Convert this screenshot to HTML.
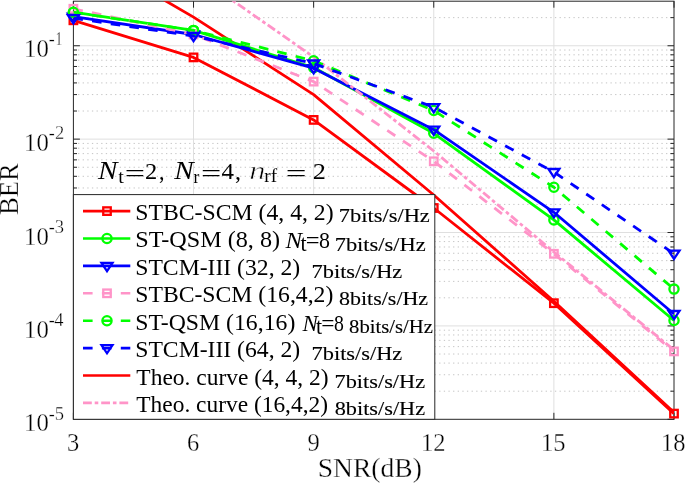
<!DOCTYPE html><html><head><meta charset="utf-8"><style>html,body{margin:0;padding:0;background:#fff;}svg{display:block;will-change:transform;} .lt text{stroke:#fff;stroke-width:0.3px;} .bt text{stroke:#000;stroke-width:0.12px;}</style></head><body><svg width="685" height="483" viewBox="0 0 685 483">
<rect width="685" height="483" fill="#fff"/>
<defs><clipPath id="ax"><rect x="73.40" y="1.20" width="600.60" height="418.10"/></clipPath></defs>
<path d="M73.40 391.19H674.00M73.40 374.74H674.00M73.40 363.08H674.00M73.40 354.03H674.00M73.40 346.63H674.00M73.40 340.38H674.00M73.40 334.96H674.00M73.40 330.19H674.00M73.40 297.80H674.00M73.40 281.36H674.00M73.40 269.69H674.00M73.40 260.64H674.00M73.40 253.25H674.00M73.40 246.99H674.00M73.40 241.58H674.00M73.40 236.80H674.00M73.40 204.42H674.00M73.40 187.97H674.00M73.40 176.30H674.00M73.40 167.25H674.00M73.40 159.86H674.00M73.40 153.61H674.00M73.40 148.19H674.00M73.40 143.42H674.00M73.40 111.03H674.00M73.40 94.59H674.00M73.40 82.92H674.00M73.40 73.87H674.00M73.40 66.47H674.00M73.40 60.22H674.00M73.40 54.81H674.00M73.40 50.03H674.00M73.40 17.64H674.00" stroke="#c4c4c4" stroke-width="1" stroke-dasharray="1.3 3.33" fill="none"/>
<path d="M73.40 325.91H674.00M73.40 232.53H674.00M73.40 139.14H674.00M73.40 45.76H674.00M193.52 1.20V419.30M313.64 1.20V419.30M433.76 1.20V419.30M553.88 1.20V419.30" stroke="#dfdfdf" stroke-width="1" fill="none"/>
<path d="M73.40 419.30h6.5M674.00 419.30h-6.5M73.40 391.19h3.6M674.00 391.19h-3.6M73.40 374.74h3.6M674.00 374.74h-3.6M73.40 363.08h3.6M674.00 363.08h-3.6M73.40 354.03h3.6M674.00 354.03h-3.6M73.40 346.63h3.6M674.00 346.63h-3.6M73.40 340.38h3.6M674.00 340.38h-3.6M73.40 334.96h3.6M674.00 334.96h-3.6M73.40 330.19h3.6M674.00 330.19h-3.6M73.40 325.91h6.5M674.00 325.91h-6.5M73.40 297.80h3.6M674.00 297.80h-3.6M73.40 281.36h3.6M674.00 281.36h-3.6M73.40 269.69h3.6M674.00 269.69h-3.6M73.40 260.64h3.6M674.00 260.64h-3.6M73.40 253.25h3.6M674.00 253.25h-3.6M73.40 246.99h3.6M674.00 246.99h-3.6M73.40 241.58h3.6M674.00 241.58h-3.6M73.40 236.80h3.6M674.00 236.80h-3.6M73.40 232.53h6.5M674.00 232.53h-6.5M73.40 204.42h3.6M674.00 204.42h-3.6M73.40 187.97h3.6M674.00 187.97h-3.6M73.40 176.30h3.6M674.00 176.30h-3.6M73.40 167.25h3.6M674.00 167.25h-3.6M73.40 159.86h3.6M674.00 159.86h-3.6M73.40 153.61h3.6M674.00 153.61h-3.6M73.40 148.19h3.6M674.00 148.19h-3.6M73.40 143.42h3.6M674.00 143.42h-3.6M73.40 139.14h6.5M674.00 139.14h-6.5M73.40 111.03h3.6M674.00 111.03h-3.6M73.40 94.59h3.6M674.00 94.59h-3.6M73.40 82.92h3.6M674.00 82.92h-3.6M73.40 73.87h3.6M674.00 73.87h-3.6M73.40 66.47h3.6M674.00 66.47h-3.6M73.40 60.22h3.6M674.00 60.22h-3.6M73.40 54.81h3.6M674.00 54.81h-3.6M73.40 50.03h3.6M674.00 50.03h-3.6M73.40 45.76h6.5M674.00 45.76h-6.5M73.40 17.64h3.6M674.00 17.64h-3.6M73.40 419.30v-6.5M73.40 1.20v6.5M193.52 419.30v-6.5M193.52 1.20v6.5M313.64 419.30v-6.5M313.64 1.20v6.5M433.76 419.30v-6.5M433.76 1.20v6.5M553.88 419.30v-6.5M553.88 1.20v6.5M674.00 419.30v-6.5M674.00 1.20v6.5" stroke="#262626" stroke-width="1" fill="none"/>
<rect x="73.40" y="1.20" width="600.60" height="418.10" fill="none" stroke="#262626" stroke-width="1"/>
<polyline clip-path="url(#ax)" points="73.40,-52.70 193.52,17.10 313.64,94.60 433.76,195.00 553.88,301.20 674.00,412.50" fill="none" stroke="#ff0000" stroke-width="2.8" stroke-linejoin="round"/>
<polyline clip-path="url(#ax)" points="73.40,20.30 193.52,57.40 313.64,119.90 433.76,208.00 553.88,303.20 674.00,413.60" fill="none" stroke="#ff0000" stroke-width="2.8" stroke-linejoin="round"/>
<rect x="69.65" y="16.55" width="7.50" height="7.50" fill="none" stroke="#ff0000" stroke-width="2.3"/>
<rect x="189.77" y="53.65" width="7.50" height="7.50" fill="none" stroke="#ff0000" stroke-width="2.3"/>
<rect x="309.89" y="116.15" width="7.50" height="7.50" fill="none" stroke="#ff0000" stroke-width="2.3"/>
<rect x="430.01" y="204.25" width="7.50" height="7.50" fill="none" stroke="#ff0000" stroke-width="2.3"/>
<rect x="550.13" y="299.45" width="7.50" height="7.50" fill="none" stroke="#ff0000" stroke-width="2.3"/>
<rect x="670.25" y="409.85" width="7.50" height="7.50" fill="none" stroke="#ff0000" stroke-width="2.3"/>
<polyline clip-path="url(#ax)" points="73.40,12.20 193.52,30.40 313.64,67.60 433.76,133.30 553.88,219.90 674.00,320.50" fill="none" stroke="#00ff00" stroke-width="2.8" stroke-linejoin="round"/>
<circle cx="73.40" cy="12.20" r="4.6" fill="none" stroke="#00ff00" stroke-width="2.3"/>
<circle cx="193.52" cy="30.40" r="4.6" fill="none" stroke="#00ff00" stroke-width="2.3"/>
<circle cx="313.64" cy="67.60" r="4.6" fill="none" stroke="#00ff00" stroke-width="2.3"/>
<circle cx="433.76" cy="133.30" r="4.6" fill="none" stroke="#00ff00" stroke-width="2.3"/>
<circle cx="553.88" cy="219.90" r="4.6" fill="none" stroke="#00ff00" stroke-width="2.3"/>
<circle cx="674.00" cy="320.50" r="4.6" fill="none" stroke="#00ff00" stroke-width="2.3"/>
<polyline clip-path="url(#ax)" points="73.40,16.60 193.52,34.50 313.64,68.20 433.76,129.70 553.88,212.30 674.00,314.00" fill="none" stroke="#0000ff" stroke-width="2.8" stroke-linejoin="round"/>
<path d="M67.90 13.60H78.90L73.40 21.80Z" fill="none" stroke="#0000ff" stroke-width="2.3" stroke-linejoin="miter"/>
<path d="M188.02 31.50H199.02L193.52 39.70Z" fill="none" stroke="#0000ff" stroke-width="2.3" stroke-linejoin="miter"/>
<path d="M308.14 65.20H319.14L313.64 73.40Z" fill="none" stroke="#0000ff" stroke-width="2.3" stroke-linejoin="miter"/>
<path d="M428.26 126.70H439.26L433.76 134.90Z" fill="none" stroke="#0000ff" stroke-width="2.3" stroke-linejoin="miter"/>
<path d="M548.38 209.30H559.38L553.88 217.50Z" fill="none" stroke="#0000ff" stroke-width="2.3" stroke-linejoin="miter"/>
<path d="M668.50 311.00H679.50L674.00 319.20Z" fill="none" stroke="#0000ff" stroke-width="2.3" stroke-linejoin="miter"/>
<polyline clip-path="url(#ax)" points="73.40,-110.00 193.52,-26.80 313.64,57.00 433.76,151.00 553.88,252.00 674.00,350.00" fill="none" stroke="#ff94c8" stroke-width="2.8" stroke-linejoin="round" stroke-dasharray="8.8 2.9 3.6 2.9"/>
<polyline clip-path="url(#ax)" points="73.40,8.75 193.52,34.50 313.64,81.60 433.76,161.30 553.88,253.80 674.00,351.40" fill="none" stroke="#ff94c8" stroke-width="2.8" stroke-linejoin="round" stroke-dasharray="9.6 9.3"/>
<rect x="69.65" y="5.00" width="7.50" height="7.50" fill="none" stroke="#ff94c8" stroke-width="2.3"/>
<rect x="189.77" y="30.75" width="7.50" height="7.50" fill="none" stroke="#ff94c8" stroke-width="2.3"/>
<rect x="309.89" y="77.85" width="7.50" height="7.50" fill="none" stroke="#ff94c8" stroke-width="2.3"/>
<rect x="430.01" y="157.55" width="7.50" height="7.50" fill="none" stroke="#ff94c8" stroke-width="2.3"/>
<rect x="550.13" y="250.05" width="7.50" height="7.50" fill="none" stroke="#ff94c8" stroke-width="2.3"/>
<rect x="670.25" y="347.65" width="7.50" height="7.50" fill="none" stroke="#ff94c8" stroke-width="2.3"/>
<polyline clip-path="url(#ax)" points="73.40,12.20 193.52,30.40 313.64,60.80 433.76,110.50 553.88,187.30 674.00,289.10" fill="none" stroke="#00ff00" stroke-width="2.8" stroke-linejoin="round" stroke-dasharray="9.6 9.3"/>
<circle cx="73.40" cy="12.20" r="4.6" fill="none" stroke="#00ff00" stroke-width="2.3"/>
<circle cx="193.52" cy="30.40" r="4.6" fill="none" stroke="#00ff00" stroke-width="2.3"/>
<circle cx="313.64" cy="60.80" r="4.6" fill="none" stroke="#00ff00" stroke-width="2.3"/>
<circle cx="433.76" cy="110.50" r="4.6" fill="none" stroke="#00ff00" stroke-width="2.3"/>
<circle cx="553.88" cy="187.30" r="4.6" fill="none" stroke="#00ff00" stroke-width="2.3"/>
<circle cx="674.00" cy="289.10" r="4.6" fill="none" stroke="#00ff00" stroke-width="2.3"/>
<polyline clip-path="url(#ax)" points="73.40,18.20 193.52,36.00 313.64,63.50 433.76,107.20 553.88,172.00 674.00,253.70" fill="none" stroke="#0000ff" stroke-width="2.8" stroke-linejoin="round" stroke-dasharray="9.6 9.3"/>
<path d="M67.90 15.20H78.90L73.40 23.40Z" fill="none" stroke="#0000ff" stroke-width="2.3" stroke-linejoin="miter"/>
<path d="M188.02 33.00H199.02L193.52 41.20Z" fill="none" stroke="#0000ff" stroke-width="2.3" stroke-linejoin="miter"/>
<path d="M308.14 60.50H319.14L313.64 68.70Z" fill="none" stroke="#0000ff" stroke-width="2.3" stroke-linejoin="miter"/>
<path d="M428.26 104.20H439.26L433.76 112.40Z" fill="none" stroke="#0000ff" stroke-width="2.3" stroke-linejoin="miter"/>
<path d="M548.38 169.00H559.38L553.88 177.20Z" fill="none" stroke="#0000ff" stroke-width="2.3" stroke-linejoin="miter"/>
<path d="M668.50 250.70H679.50L674.00 258.90Z" fill="none" stroke="#0000ff" stroke-width="2.3" stroke-linejoin="miter"/>
<g class="lt">
<text transform="matrix(1.0000 0 0 1 67.01 451.00)" font-family="Liberation Serif, serif" font-size="24.5" fill="#000">3</text>
<text transform="matrix(1.0000 0 0 1 187.07 451.00)" font-family="Liberation Serif, serif" font-size="24.5" fill="#000">6</text>
<text transform="matrix(1.0000 0 0 1 307.44 451.00)" font-family="Liberation Serif, serif" font-size="24.5" fill="#000">9</text>
<text transform="matrix(1.0000 0 0 1 420.94 451.00)" font-family="Liberation Serif, serif" font-size="24.5" fill="#000">12</text>
<text transform="matrix(1.0000 0 0 1 540.88 451.00)" font-family="Liberation Serif, serif" font-size="24.5" fill="#000">15</text>
<text transform="matrix(1.0000 0 0 1 661.00 451.00)" font-family="Liberation Serif, serif" font-size="24.5" fill="#000">18</text>
<text transform="matrix(1.0122 0 0 1 24.09 57.00)" font-family="Liberation Serif, serif" font-size="24.5" fill="#000">10</text>
<text transform="matrix(0.9771 0 0 1 48.67 45.00)" font-family="Liberation Serif, serif" font-size="18.5" fill="#000">-</text>
<text transform="matrix(0.6852 0 0 1 55.82 45.00)" font-family="Liberation Serif, serif" font-size="18.5" fill="#000">1</text>
<text transform="matrix(1.0122 0 0 1 24.09 151.00)" font-family="Liberation Serif, serif" font-size="24.5" fill="#000">10</text>
<text transform="matrix(0.9771 0 0 1 48.67 139.00)" font-family="Liberation Serif, serif" font-size="18.5" fill="#000">-</text>
<text transform="matrix(1.0000 0 0 1 54.97 139.00)" font-family="Liberation Serif, serif" font-size="18.5" fill="#000">2</text>
<text transform="matrix(1.0122 0 0 1 24.09 245.00)" font-family="Liberation Serif, serif" font-size="24.5" fill="#000">10</text>
<text transform="matrix(0.9771 0 0 1 48.67 233.00)" font-family="Liberation Serif, serif" font-size="18.5" fill="#000">-</text>
<text transform="matrix(1.0000 0 0 1 54.69 233.00)" font-family="Liberation Serif, serif" font-size="18.5" fill="#000">3</text>
<text transform="matrix(1.0122 0 0 1 24.09 338.00)" font-family="Liberation Serif, serif" font-size="24.5" fill="#000">10</text>
<text transform="matrix(0.9771 0 0 1 48.67 326.00)" font-family="Liberation Serif, serif" font-size="18.5" fill="#000">-</text>
<text transform="matrix(1.0000 0 0 1 54.23 326.00)" font-family="Liberation Serif, serif" font-size="18.5" fill="#000">4</text>
<text transform="matrix(1.0122 0 0 1 24.09 431.00)" font-family="Liberation Serif, serif" font-size="24.5" fill="#000">10</text>
<text transform="matrix(0.9771 0 0 1 48.67 420.00)" font-family="Liberation Serif, serif" font-size="18.5" fill="#000">-</text>
<text transform="matrix(1.0000 0 0 1 54.69 420.00)" font-family="Liberation Serif, serif" font-size="18.5" fill="#000">5</text>
<text transform="matrix(1.0395 0 0 1 317.81 477.00)" font-family="Liberation Serif, serif" font-size="26.5" fill="#000">SNR(dB)</text>
<g transform="translate(18.2 214.3) rotate(-90)"><text transform="matrix(0.9902 0 0 1 -0.80 0.00)" font-family="Liberation Serif, serif" font-size="27" fill="#000">BER</text></g>
</g>
<text transform="matrix(1.1667 0 0 1 98.05 179.00)" font-family="Liberation Serif, serif" font-size="25.0" font-style="italic" fill="#000">N</text>
<text transform="matrix(1.0526 0 0 1 118.20 183.00)" font-family="Liberation Serif, serif" font-size="19.0" fill="#000">t</text>
<text transform="matrix(1.5615 0 0 1 124.70 180.50)" font-family="Liberation Serif, serif" font-size="23.0" fill="#000">=</text>
<text transform="matrix(1.0652 0 0 1 145.10 179.00)" font-family="Liberation Serif, serif" font-size="23.0" fill="#000">2</text>
<text transform="matrix(0.9595 0 0 1 158.92 179.00)" font-family="Liberation Serif, serif" font-size="23.0" fill="#000">,</text>
<text transform="matrix(1.1667 0 0 1 174.25 179.00)" font-family="Liberation Serif, serif" font-size="25.0" font-style="italic" fill="#000">N</text>
<text transform="matrix(0.9146 0 0 1 193.55 183.00)" font-family="Liberation Serif, serif" font-size="19.0" fill="#000">r</text>
<text transform="matrix(1.5615 0 0 1 200.90 180.50)" font-family="Liberation Serif, serif" font-size="23.0" fill="#000">=</text>
<text transform="matrix(1.0846 0 0 1 221.50 179.00)" font-family="Liberation Serif, serif" font-size="23.0" fill="#000">4</text>
<text transform="matrix(1.0495 0 0 1 235.03 179.00)" font-family="Liberation Serif, serif" font-size="23.0" fill="#000">,</text>
<text transform="matrix(1.2988 0 0 1 249.16 179.00)" font-family="Liberation Serif, serif" font-size="25.0" font-style="italic" fill="#000" stroke="#fff" stroke-width="0.55">n</text>
<text transform="matrix(1.0684 0 0 1 264.32 182.00)" font-family="Liberation Serif, serif" font-size="18.0" fill="#000">rf</text>
<text transform="matrix(1.5989 0 0 1 285.86 180.50)" font-family="Liberation Serif, serif" font-size="23.0" fill="#000">=</text>
<text transform="matrix(1.1413 0 0 1 312.82 179.00)" font-family="Liberation Serif, serif" font-size="23.0" fill="#000">2</text>
<rect x="73.40" y="194.60" width="361.40" height="224.70" fill="#fff" stroke="#262626" stroke-width="1"/>
<line x1="83" y1="211.10" x2="130.3" y2="211.10" stroke="#ff0000" stroke-width="2.6"/>
<rect x="103.25" y="207.35" width="7.50" height="7.50" fill="none" stroke="#ff0000" stroke-width="2.3"/>
<text transform="matrix(1.0506 0 0 1 135.26 220.00)" font-family="Liberation Serif, serif" font-size="22.6" fill="#000">STBC-SCM (4, 4, 2)</text>
<g class="bt"><text transform="matrix(1.1955 0 0 1 338.74 222.00)" font-family="Liberation Serif, serif" font-size="18.8" fill="#000">7bits/s/Hz</text></g>
<line x1="83" y1="238.50" x2="130.3" y2="238.50" stroke="#00ff00" stroke-width="2.6"/>
<circle cx="107.00" cy="238.50" r="4.6" fill="none" stroke="#00ff00" stroke-width="2.3"/>
<text transform="matrix(1.0699 0 0 1 135.23 247.00)" font-family="Liberation Serif, serif" font-size="22.6" fill="#000">ST-QSM (8, 8)</text>
<text transform="matrix(1.1000 0 0 1 285.42 248.00)" font-family="Liberation Serif, serif" font-size="22.6" font-style="italic" fill="#000">N</text>
<text transform="matrix(0.9700 0 0 1 300.38 250.50)" font-family="Liberation Serif, serif" font-size="22.6" fill="#000">t</text>
<text transform="matrix(1.0848 0 0 1 305.87 248.00)" font-family="Liberation Serif, serif" font-size="22.6" fill="#000">=</text>
<text transform="matrix(0.9692 0 0 1 318.92 248.00)" font-family="Liberation Serif, serif" font-size="22.6" fill="#000">8</text>
<g class="bt"><text transform="matrix(1.1968 0 0 1 334.64 251.00)" font-family="Liberation Serif, serif" font-size="18.8" fill="#000">7bits/s/Hz</text></g>
<line x1="83" y1="265.90" x2="130.3" y2="265.90" stroke="#0000ff" stroke-width="2.6"/>
<path d="M101.50 262.90H112.50L107.00 271.10Z" fill="none" stroke="#0000ff" stroke-width="2.3" stroke-linejoin="miter"/>
<text transform="matrix(1.0480 0 0 1 135.26 275.00)" font-family="Liberation Serif, serif" font-size="22.6" fill="#000">STCM-III (32, 2)</text>
<g class="bt"><text transform="matrix(1.1901 0 0 1 311.55 278.00)" font-family="Liberation Serif, serif" font-size="18.8" fill="#000">7bits/s/Hz</text></g>
<line x1="83" y1="293.30" x2="130.3" y2="293.30" stroke="#ff94c8" stroke-width="2.6" stroke-dasharray="9.6 9.3"/>
<rect x="103.25" y="289.55" width="7.50" height="7.50" fill="none" stroke="#ff94c8" stroke-width="2.3"/>
<text transform="matrix(1.0484 0 0 1 135.26 302.00)" font-family="Liberation Serif, serif" font-size="22.6" fill="#000">STBC-SCM (16,4,2)</text>
<g class="bt"><text transform="matrix(1.1693 0 0 1 339.02 305.00)" font-family="Liberation Serif, serif" font-size="18.8" fill="#000">8bits/s/Hz</text></g>
<line x1="83" y1="320.70" x2="130.3" y2="320.70" stroke="#00ff00" stroke-width="2.6" stroke-dasharray="9.6 9.3"/>
<circle cx="107.00" cy="320.70" r="4.6" fill="none" stroke="#00ff00" stroke-width="2.3"/>
<text transform="matrix(1.0510 0 0 1 135.26 330.00)" font-family="Liberation Serif, serif" font-size="22.6" fill="#000">ST-QSM (16,16)</text>
<text transform="matrix(1.0202 0 0 1 302.42 331.00)" font-family="Liberation Serif, serif" font-size="22.6" font-style="italic" fill="#000">N</text>
<text transform="matrix(0.9700 0 0 1 316.08 333.50)" font-family="Liberation Serif, serif" font-size="22.6" fill="#000">t</text>
<text transform="matrix(1.0372 0 0 1 321.23 331.00)" font-family="Liberation Serif, serif" font-size="22.6" fill="#000">=</text>
<text transform="matrix(0.8744 0 0 1 333.91 331.00)" font-family="Liberation Serif, serif" font-size="22.6" fill="#000">8</text>
<g class="bt"><text transform="matrix(1.0999 0 0 1 349.07 333.00)" font-family="Liberation Serif, serif" font-size="18.8" fill="#000">8bits/s/Hz</text></g>
<line x1="83" y1="348.10" x2="130.3" y2="348.10" stroke="#0000ff" stroke-width="2.6" stroke-dasharray="9.6 9.3"/>
<path d="M101.50 345.10H112.50L107.00 353.30Z" fill="none" stroke="#0000ff" stroke-width="2.3" stroke-linejoin="miter"/>
<text transform="matrix(1.0480 0 0 1 135.26 357.00)" font-family="Liberation Serif, serif" font-size="22.6" fill="#000">STCM-III (64, 2)</text>
<g class="bt"><text transform="matrix(1.1901 0 0 1 311.55 360.00)" font-family="Liberation Serif, serif" font-size="18.8" fill="#000">7bits/s/Hz</text></g>
<line x1="83" y1="375.50" x2="130.3" y2="375.50" stroke="#ff0000" stroke-width="2.6"/>
<text transform="matrix(1.0390 0 0 1 136.33 385.00)" font-family="Liberation Serif, serif" font-size="22.6" fill="#000">Theo. curve (4, 4, 2)</text>
<g class="bt"><text transform="matrix(1.1874 0 0 1 334.55 388.00)" font-family="Liberation Serif, serif" font-size="18.8" fill="#000">7bits/s/Hz</text></g>
<line x1="83" y1="402.90" x2="130.3" y2="402.90" stroke="#ff94c8" stroke-width="2.6" stroke-dasharray="8.8 2.9 3.6 2.9"/>
<text transform="matrix(1.0357 0 0 1 136.33 412.00)" font-family="Liberation Serif, serif" font-size="22.6" fill="#000">Theo. curve (16,4,2)</text>
<g class="bt"><text transform="matrix(1.1853 0 0 1 334.71 415.00)" font-family="Liberation Serif, serif" font-size="18.8" fill="#000">8bits/s/Hz</text></g>
</svg></body></html>
